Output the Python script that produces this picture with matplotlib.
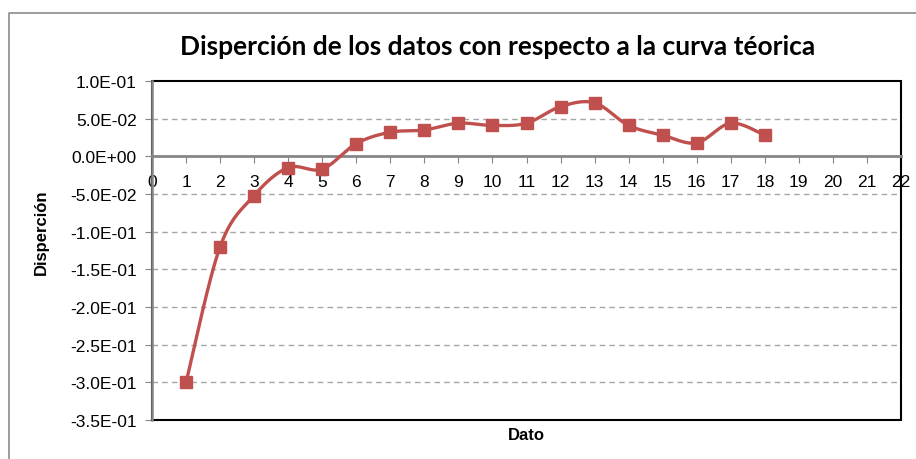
import numpy as np
import matplotlib.pyplot as plt
from matplotlib.lines import Line2D
from matplotlib.patches import Rectangle

# data
dato = [1, 2, 3, 4, 5, 6, 7, 8, 9, 10, 11, 12, 13, 14, 15, 16, 17, 18]
dispersion = [-0.300, -0.120, -0.052, -0.015, -0.017, 0.017, 0.032, 0.035,
              0.044, 0.041, 0.044, 0.066, 0.071, 0.041, 0.028, 0.018, 0.044, 0.028]

x_ticks = list(range(0, 23))
y_ticks = [0.10, 0.05, 0.0, -0.05, -0.10, -0.15, -0.20, -0.25, -0.30, -0.35]
y_labels = ["1.0E-01", "5.0E-02", "0.0E+00", "-5.0E-02", "-1.0E-01",
            "-1.5E-01", "-2.0E-01", "-2.5E-01", "-3.0E-01", "-3.5E-01"]

RED = "#C0504D"
W, H = 916, 460

plt.rcParams['font.family'] = ['Liberation Sans', 'DejaVu Sans']


def smooth(xs, ys, n=30):
    # excel-like smoothed line: cubic bezier with catmull-rom control points
    p = np.column_stack([xs, ys]).astype(float)
    out = [p[0]]
    t = np.linspace(0, 1, n)[1:, None]
    for i in range(len(p) - 1):
        p0 = p[i - 1] if i > 0 else p[i]
        p3 = p[i + 2] if i + 2 < len(p) else p[i + 1]
        c1 = p[i] + (p[i + 1] - p0) / 6
        c2 = p[i + 1] - (p3 - p[i]) / 6
        seg = ((1 - t) ** 3 * p[i] + 3 * (1 - t) ** 2 * t * c1
               + 3 * (1 - t) * t ** 2 * c2 + t ** 3 * p[i + 1])
        out.extend(seg)
    out = np.array(out)
    return out[:, 0], out[:, 1]


fig = plt.figure(figsize=(W / 100, H / 100), dpi=100)
ax = fig.add_axes([152 / W, 1 - 421 / H, (901 - 152) / W, (421 - 82) / H])

sx, sy = smooth(dato, dispersion)
ax.plot(sx, sy, color=RED, lw=2.4, zorder=4, solid_capstyle='round')
ax.plot(dato, dispersion, ls='none', marker='s', ms=9, color=RED,
        mec=RED, zorder=5)

ax.set_xlim(0, 22)
ax.set_ylim(-0.35, 0.10)

# gridlines
for v in y_ticks[1:-1]:
    if v != 0:
        ax.axhline(v, color='#A6A6A6', lw=1, ls=(0, (4, 3)), zorder=1)

# plot area border
ax.add_patch(Rectangle((0, 0), 1, 1, transform=ax.transAxes, fill=False,
                       ec='black', lw=1.5, zorder=2, clip_on=False))

ax.spines['top'].set_visible(False)
ax.spines['right'].set_visible(False)
ax.spines['left'].set_color('#868686')
ax.spines['left'].set_linewidth(1.8)
ax.spines['left'].set_zorder(3)
ax.spines['bottom'].set_position(('data', 0))
ax.spines['bottom'].set_color('#868686')
ax.spines['bottom'].set_linewidth(2)
ax.spines['bottom'].set_zorder(3)

ax.set_yticks(y_ticks)
ax.set_yticklabels(y_labels)
ax.set_xticks(x_ticks)
ax.tick_params(axis='y', direction='out', length=5, color='#868686',
               labelsize=12.5, pad=6)
ax.tick_params(axis='x', direction='out', length=5, color='#868686',
               labelsize=12.5, pad=8)

ax.set_ylabel("Disperción", fontsize=12, fontweight='bold')
ax.yaxis.set_label_coords(-(152 - 49) / (901 - 152), (421 - 232) / (421 - 82))
fig.text(526 / W, 1 - 436 / H, "Dato", ha='center', va='center',
         fontsize=12, fontweight='bold')

fig.text(498 / W, 1 - 47 / H, "Disperción de los datos con respecto a la curva téorica",
         ha='center', va='center', fontsize=19, fontweight='bold',
         family=['Lato', 'DejaVu Sans'])

# outer chart border (only top and left visible in the crop)
fig.add_artist(Line2D([9 / W, 9 / W, 1.0], [0, 1 - 14 / H, 1 - 14 / H],
                      color='#8C8C8C', lw=1.2))

fig.savefig("out.png", dpi=100)
